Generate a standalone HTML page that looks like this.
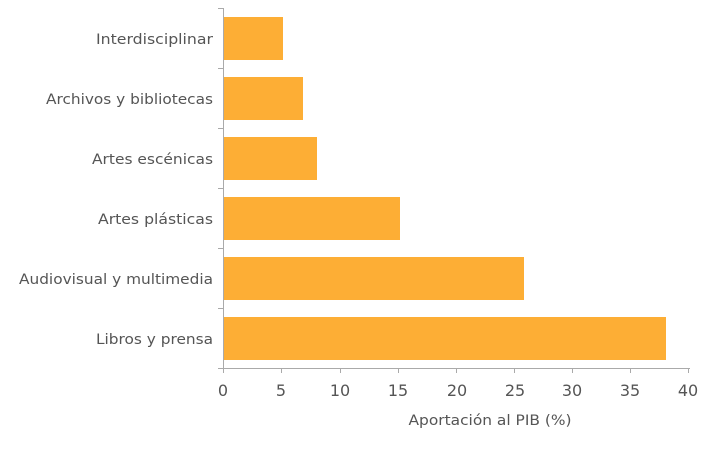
<!DOCTYPE html><html><head><style>body{margin:0;background:#fff}</style></head><body>
<svg width="702" height="467" xmlns="http://www.w3.org/2000/svg" font-family="DejaVu Sans, Liberation Sans, sans-serif" fill="#555">
<g fill="#FDAE35">
<rect x="223" y="17" width="60" height="43"/>
<rect x="223" y="77" width="80" height="43"/>
<rect x="223" y="137" width="94" height="43"/>
<rect x="223" y="197" width="177" height="43"/>
<rect x="223" y="257" width="301" height="43"/>
<rect x="223" y="317" width="443" height="43"/>
</g>
<g stroke="#aaa" stroke-width="1" fill="none">
<path d="M223.5 8V368.5H690"/>
<path d="M218 8.5h5M218 68.5h5M218 128.5h5M218 188.5h5M218 248.5h5M218 308.5h5M218 368.5h5"/>
<path d="M223.5 368v5M281.5 368v5M340.5 368v5M398.5 368v5M456.5 368v5M514.5 368v5M572.5 368v5M630.5 368v5M688.5 368v5"/>
</g>
<g font-size="14.3" text-anchor="end">
<text x="213" y="44" textLength="117" lengthAdjust="spacingAndGlyphs">Interdisciplinar</text>
<text x="213" y="104" textLength="167" lengthAdjust="spacingAndGlyphs">Archivos y bibliotecas</text>
<text x="213" y="164" textLength="121" lengthAdjust="spacingAndGlyphs">Artes escénicas</text>
<text x="213" y="224" textLength="115" lengthAdjust="spacingAndGlyphs">Artes plásticas</text>
<text x="213" y="284" textLength="194" lengthAdjust="spacingAndGlyphs">Audiovisual y multimedia</text>
<text x="213" y="344" textLength="117" lengthAdjust="spacingAndGlyphs">Libros y prensa</text>
</g>
<g font-size="16" text-anchor="middle">
<text x="223" y="396">0</text><text x="281" y="396">5</text><text x="340" y="396">10</text><text x="398" y="396">15</text><text x="457" y="396">20</text><text x="515" y="396">25</text><text x="572" y="396">30</text><text x="630" y="396">35</text><text x="688" y="396">40</text>
</g>
<text x="490" y="425" font-size="14.3" text-anchor="middle" textLength="163" lengthAdjust="spacingAndGlyphs">Aportación al PIB (%)</text>
</svg>
</body></html>
